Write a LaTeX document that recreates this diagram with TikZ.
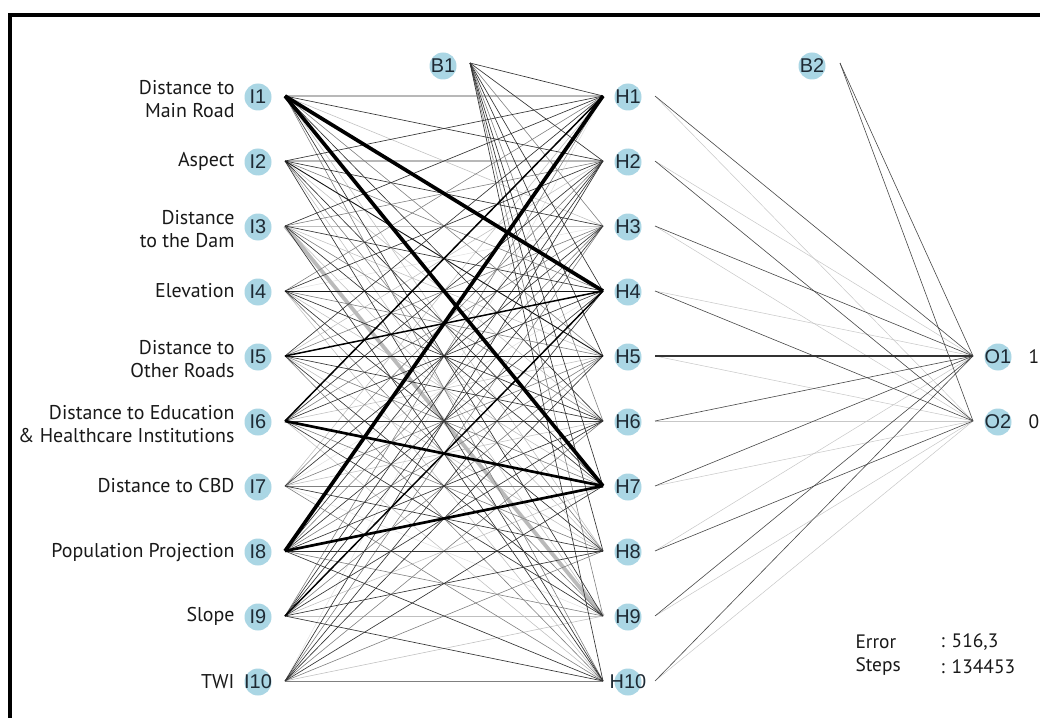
\documentclass[tikz,border=0pt]{standalone}
\usepackage{fontspec}
\setmainfont{PT Sans}
\newfontfamily\nodefont{Liberation Sans}
\definecolor{nodeblue}{RGB}{170,214,228}
\definecolor{nodetext}{RGB}{30,42,52}
\tikzset{
  neuron/.style={circle, fill=nodeblue, minimum size=27bp, inner sep=0pt},
  ntext/.style={inner sep=0pt, font=\nodefont\fontsize{20}{20}\selectfont, text=nodetext},
  lbl/.style={anchor=east, align=right, font=\fontsize{20}{23.5}\selectfont, text=black!90},
  info/.style={anchor=west, font=\fontsize{19.5}{23}\selectfont, text=black!90},
  wZ/.style={draw=black!12, line width=0.5pt},
  wA/.style={draw=black!25, line width=0.55pt},
  wB/.style={draw=black!50, line width=0.6pt},
  wC/.style={draw=black!80, line width=0.65pt},
  wD/.style={draw=black!92, line width=0.9pt},
  wE/.style={draw=black, line width=1.5pt},
  wF/.style={draw=black, line width=2.7pt},
  wG/.style={draw=black, line width=3.7pt},
  wH/.style={draw=black!27, line width=3.8pt},
  wI/.style={draw=black!28, line width=1.8pt},
  oLight/.style={draw=black!22, line width=0.5pt},
  oDark/.style={draw=black!72, line width=0.6pt},
  oStrong/.style={draw=black!80, line width=1.3pt},
  frame/.style={draw=black, line width=4bp}
}
\begin{document}
\begin{tikzpicture}[x=1bp,y=-1bp]
\useasboundingbox (0,0) rectangle (1040,718);
\fill[white] (0,0) rectangle (1040,718);
\draw[frame] (10,718) -- (10,15) -- (1040,15);

% connection points
\foreach \k/\y in {1/96,2/161,3/226,4/291,5/356,6/421,7/486,8/551,9/616,10/681}{
  \coordinate (i\k) at (285,\y);
  \coordinate (hl\k) at (603,\y);
  \coordinate (hr\k) at (655,\y);
}
\coordinate (b1) at (470,63);
\coordinate (b2) at (840,63);
\coordinate (o1) at (973,356);
\coordinate (o2) at (973,421);

% input -> hidden, light to heavy
\foreach \a/\b in {4/3,7/4,7/9,10/1}
  \draw[wZ] (i\a) -- (hl\b);
\foreach \a/\b in {1/3,1/8,2/6,2/9,3/3,3/5,3/8,4/7,4/10,5/2,5/8,6/5,6/10,7/1,7/6,9/7,9/9,10/9}
  \draw[wA] (i\a) -- (hl\b);
\draw[wB] (b1) -- (hl9);
\draw[wH] (i3) -- (hl9);
\foreach \a/\b in {1/1,2/2}
  \draw[wI] (i\a) -- (hl\b);
\foreach \a/\b in {1/5,1/10,2/4,2/8,3/2,3/6,4/1,4/5,4/9,5/3,5/7,5/10,6/3,6/8,7/2,7/5,7/7,7/10,8/3,8/5,8/9,9/1,9/5,10/3,10/6,10/8,10/10}
  \draw[wB] (i\a) -- (hl\b);
\foreach \b in {3,6}
  \draw[wB] (b1) -- (hl\b);
\foreach \a/\b in {1/2,1/6,1/9,2/1,2/3,2/7,2/10,3/1,3/4,3/7,3/10,4/2,4/6,4/8,5/1,5/6,5/9,6/2,6/4,6/6,6/9,7/3,7/8,8/2,8/4,8/6,8/8,8/10,9/2,9/3,9/6,9/8,9/10,10/2,10/4,10/5,10/7}
  \draw[wC] (i\a) -- (hl\b);
\foreach \b in {1,2,4,5,7,8,10}
  \draw[wC] (b1) -- (hl\b);
\foreach \a/\b in {2/5,4/4,5/5}
  \draw[wD] (i\a) -- (hl\b);
\foreach \a/\b in {5/4,6/1,9/4}
  \draw[wE] (i\a) -- (hl\b);
\foreach \a/\b in {6/7,8/7}
  \draw[wF] (i\a) -- (hl\b);
\foreach \a/\b in {1/4,1/7,8/1}
  \draw[wG] (i\a) -- (hl\b);

% hidden -> output
\foreach \a/\o in {1/2,2/1,3/2,4/1,5/2,6/2,7/2,8/1,9/2,10/2}
  \draw[oLight] (hr\a) -- (o\o);
\foreach \a/\o in {1/1,2/2,3/1,4/2,6/1,7/1,8/2,9/1,10/1}
  \draw[oDark] (hr\a) -- (o\o);
\draw[oStrong] (hr5) -- (o1);
\draw[oDark] (b2) -- (o1);
\draw[oDark] (b2) -- (o2);

% neurons
\foreach \k/\y in {1/96,2/161,3/226,4/291,5/356,6/421,7/486,8/551,9/616,10/681}{
  \node[neuron] (I\k) at (258,\y+1) {};
  \node[ntext] (tI\k) at (I\k) {I\k};
  \node[neuron] (H\k) at (628,\y+1) {};
  \node[ntext] (tH\k) at (H\k) {H\k};
}
\node[neuron] (B1) at (443,66) {};
\node[ntext] (tB1) at (B1) {B1};
\node[neuron] (B2) at (812,66) {};
\node[ntext] (tB2) at (B2) {B2};
\node[neuron] (O1) at (998,357) {};
\node[ntext] (tO1) at (O1) {O1};
\node[neuron] (O2) at (998,422) {};
\node[ntext] (tO2) at (O2) {O2};

% input labels
\node[lbl] (L1) at (238,99) {Distance to\\Main Road};
\node[lbl] (L2) at (238,161) {Aspect};
\node[lbl] (L3) at (238,229) {Distance\\to the Dam};
\node[lbl] (L4) at (238,291) {Elevation};
\node[lbl] (L5) at (238,359) {Distance to\\Other Roads};
\node[lbl] (L6) at (238,424) {Distance to Education\\\& Healthcare Institutions};
\node[lbl] (L7) at (238,486) {Distance to CBD};
\node[lbl] (L8) at (238,553) {Population Projection};
\node[lbl] (L9) at (238,616) {Slope};
\node[lbl] (L10) at (238,682) {TWI};

% output values
\node[info] (v1) at (1025,357) {1};
\node[info] (v2) at (1025,422) {0};

% error / steps
\node[info] (e1) at (852,642) {Error};
\node[info] (e2) at (852,667) {Steps};
\node[info] (e3) at (937,642) {: 516,3};
\node[info] (e4) at (937,667) {: 134453};
\end{tikzpicture}
\end{document}
